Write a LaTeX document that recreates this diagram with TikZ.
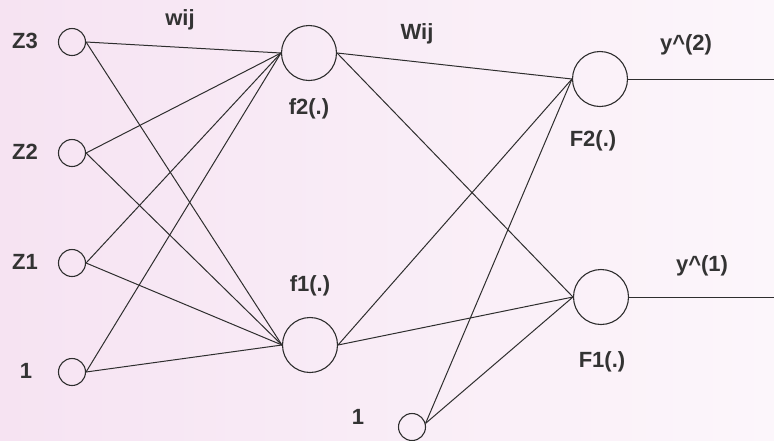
\documentclass[tikz,border=0pt]{standalone}
\usepackage{fontspec}
\setmainfont{Liberation Sans}
\begin{document}
\begin{tikzpicture}[x=1pt,y=-1pt,
  neuron/.style={circle,draw=black!82,line width=1.1pt,inner sep=0pt,fill=none},
  small/.style={neuron,minimum size=27pt},
  big/.style={neuron,minimum size=55pt},
  lbl/.style={font=\bfseries\fontsize{22}{22}\selectfont,text=black!80,inner sep=0pt},
  link/.style={draw=black!82,line width=1pt}]
\shade[left color={rgb,255:red,246;green,227;blue,242},right color={rgb,255:red,252;green,246;blue,251}] (0,0) rectangle (774,440);
\useasboundingbox (0,0) rectangle (774,440);
% input layer
\node[small] (z3) at (72,42) {};
\node[small] (z2) at (72,153) {};
\node[small] (z1) at (72,263) {};
\node[small] (b1) at (72,372) {};
% hidden layer
\node[big] (f2) at (309,53) {};
\node[big] (f1) at (310,345) {};
% output layer
\node[big] (F2) at (600,79) {};
\node[big] (F1) at (601,297) {};
% bias of output layer
\node[small] (b2) at (412,427) {};
\coordinate (b2o) at (b2.15);
\coordinate (y2end) at (774,79);
\coordinate (y1end) at (774,297);
% labels
\node[lbl] (lz3) at (25,41) {Z3};
\node[lbl] (lz2) at (25,152) {Z2};
\node[lbl] (lz1) at (25,262) {Z1};
\node[lbl] (lb1) at (26,371) {1};
\node[lbl] (lwij) at (180,20) {wij};
\node[lbl] (lf2) at (309,109) {f2(.)};
\node[lbl] (lf1) at (310,286) {f1(.)};
\node[lbl] (lWij) at (417,34) {Wij};
\node[lbl] (lF2) at (593,141) {F2(.)};
\node[lbl] (lF1) at (602,362) {F1(.)};
\node[lbl] (ly2) at (686,45) {y\^{}(2)};
\node[lbl] (ly1) at (702,266) {y\^{}(1)};
\node[lbl] (lb2) at (358,417) {1};
% connections input -> hidden
\foreach \i in {z3,z2,z1,b1}{
  \draw[link] (\i.east) -- (f2.west);
  \draw[link] (\i.east) -- (f1.west);
}
% hidden -> output
\foreach \h in {f2,f1}{
  \draw[link] (\h.east) -- (F2.west);
  \draw[link] (\h.east) -- (F1.west);
}
\draw[link] (b2o) -- (F2.west);
\draw[link] (b2o) -- (F1.west);
% outputs
\draw[link] (F2.east) -- (y2end);
\draw[link] (F1.east) -- (y1end);
\end{tikzpicture}
\end{document}
